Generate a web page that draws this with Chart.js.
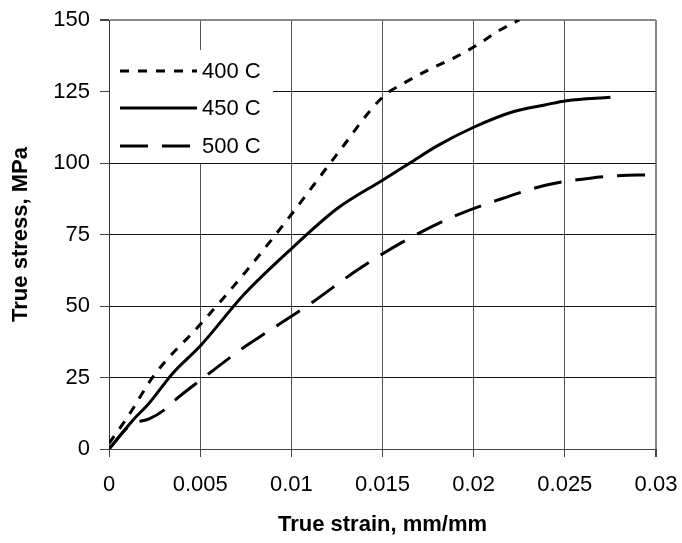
<!DOCTYPE html>
<html>
<head>
<meta charset="utf-8">
<script src="https://cdn.jsdelivr.net/npm/chart.js@4/dist/chart.umd.min.js"></script>
<style>
  html, body { margin: 0; padding: 0; background: #fff; }
  #wrap { width: 682px; height: 543px; }
</style>
</head>
<body>
<div id="wrap"><canvas id="chart"></canvas></div>
<script>
// values (strain in mm/mm, stress in MPa)
const seriesNames = ['400 C', '450 C', '500 C'];

const strain400 = [0, 0.001, 0.0025, 0.005, 0.0075, 0.01, 0.0125, 0.015, 0.0162, 0.0175, 0.019, 0.0202, 0.0214, 0.0225];
const stress400 = [2, 11, 26, 43.5, 62, 82, 103, 123, 128, 132.5, 137, 141.3, 146.3, 150];

const strain450 = [0, 0.0013, 0.0022, 0.0035, 0.005, 0.0074, 0.01, 0.0125, 0.015, 0.0165, 0.018, 0.02, 0.0222, 0.0239, 0.0251, 0.0275];
const stress450 = [0, 10, 16, 26.5, 36, 54, 70, 84, 94, 100, 106, 112.5, 118, 120.3, 121.8, 123];

const strain500 = [0, 0.0012, 0.0022, 0.003, 0.0037, 0.005, 0.0075, 0.0087, 0.0112, 0.0136, 0.016, 0.0188, 0.0213, 0.024, 0.0264, 0.029, 0.03];
const stress500 = [0, 8.5, 10.5, 13.5, 17.5, 24, 36, 41, 51.5, 62.5, 72, 81, 87, 92.3, 94.7, 95.8, 95.8];

const xTickLabels = [0, 0.005, 0.01, 0.015, 0.02, 0.025, 0.03];
const yTickLabels = [0, 25, 50, 75, 100, 125, 150];

function pts(xs, ys) {
    return xs.map((x, i) => ({x: x, y: ys[i]}));
}

// legend drawn inside the plot, on a white box over the grid
const insideLegend = {
    id: 'insideLegend',
    beforeDatasetsDraw(chart) {
        const ctx = chart.ctx;
        const area = chart.chartArea;
        ctx.save();
        ctx.fillStyle = '#fff';
        ctx.fillRect(area.left + 1, 50, 163, 113);
        ctx.font = '22px "Liberation Sans", Arial, sans-serif';
        ctx.textBaseline = 'middle';
        ctx.fillStyle = '#000';
        const rows = [71, 108, 146];
        chart.data.datasets.forEach((ds, i) => {
            ctx.strokeStyle = ds.borderColor;
            ctx.lineWidth = ds.borderWidth;
            ctx.setLineDash(ds.borderDash || []);
            ctx.beginPath();
            ctx.moveTo(120, rows[i]);
            ctx.lineTo(197, rows[i]);
            ctx.stroke();
            ctx.fillText(ds.label, 202, rows[i] + 1);
        });
        ctx.restore();
    }
};

const tickFont = {family: '"Liberation Sans", Arial, sans-serif', size: 22};
const titleFont = {family: '"Liberation Sans", Arial, sans-serif', size: 22, weight: 'bold'};

new Chart(document.getElementById('chart'), {
    type: 'line',
    data: {
        datasets: [{
            label: seriesNames[0],
            data: pts(strain400, stress400),
            borderColor: '#000',
            borderWidth: 3,
            borderDash: [9, 9],
            cubicInterpolationMode: 'monotone'
        }, {
            label: seriesNames[1],
            data: pts(strain450, stress450),
            borderColor: '#000',
            borderWidth: 3,
            cubicInterpolationMode: 'monotone'
        }, {
            label: seriesNames[2],
            data: pts(strain500, stress500),
            borderColor: '#000',
            borderWidth: 3,
            borderDash: [28, 14],
            cubicInterpolationMode: 'monotone'
        }]
    },
    options: {
        responsive: true,
        maintainAspectRatio: false,
        animation: false,
        elements: {point: {radius: 0}},
        layout: {padding: {top: 20, right: 26, left: 0, bottom: 0}},
        plugins: {
            legend: {display: false},
            tooltip: {enabled: false}
        },
        scales: {
            x: {
                type: 'linear',
                min: 0,
                max: 0.03,
                afterBuildTicks: (s) => { s.ticks = xTickLabels.map(v => ({value: v})); },
                afterFit: (s) => {
                    s.height = 94;
                    s.paddingLeft = 0;
                    s.paddingRight = 0;
                },
                ticks: {
                    color: '#000',
                    font: tickFont,
                    padding: 15,
                    maxRotation: 0,
                    callback: (v) => String(v)
                },
                grid: {
                    color: (c) => c.tick && c.tick.value === 0.03 ? '#888' : '#555',
                    lineWidth: (c) => c.tick && c.tick.value === 0.03 ? 2 : 1,
                    drawTicks: true,
                    tickLength: 8,
                    tickColor: '#444'
                },
                border: {color: '#444', width: 1},
                title: {
                    display: true,
                    text: 'True strain, mm/mm',
                    color: '#000',
                    font: titleFont,
                    padding: {top: 0, bottom: 5}
                }
            },
            y: {
                type: 'linear',
                min: 0,
                max: 150,
                afterBuildTicks: (s) => { s.ticks = yTickLabels.map(v => ({value: v})); },
                afterFit: (s) => {
                    s.width = 109;
                    s.paddingTop = 0;
                    s.paddingBottom = 0;
                },
                ticks: {
                    color: '#000',
                    font: tickFont,
                    padding: 10
                },
                grid: {
                    color: (c) => c.tick && c.tick.value === 150 ? '#888' : '#111',
                    lineWidth: (c) => c.tick && c.tick.value === 150 ? 2 : 1,
                    drawTicks: true,
                    tickLength: 9,
                    tickColor: '#444'
                },
                border: {color: '#333', width: 1},
                title: {
                    display: true,
                    text: 'True stress, MPa',
                    color: '#000',
                    font: titleFont,
                    padding: {top: 8, bottom: 0}
                }
            }
        }
    },
    plugins: [insideLegend]
});
</script>
</body>
</html>
